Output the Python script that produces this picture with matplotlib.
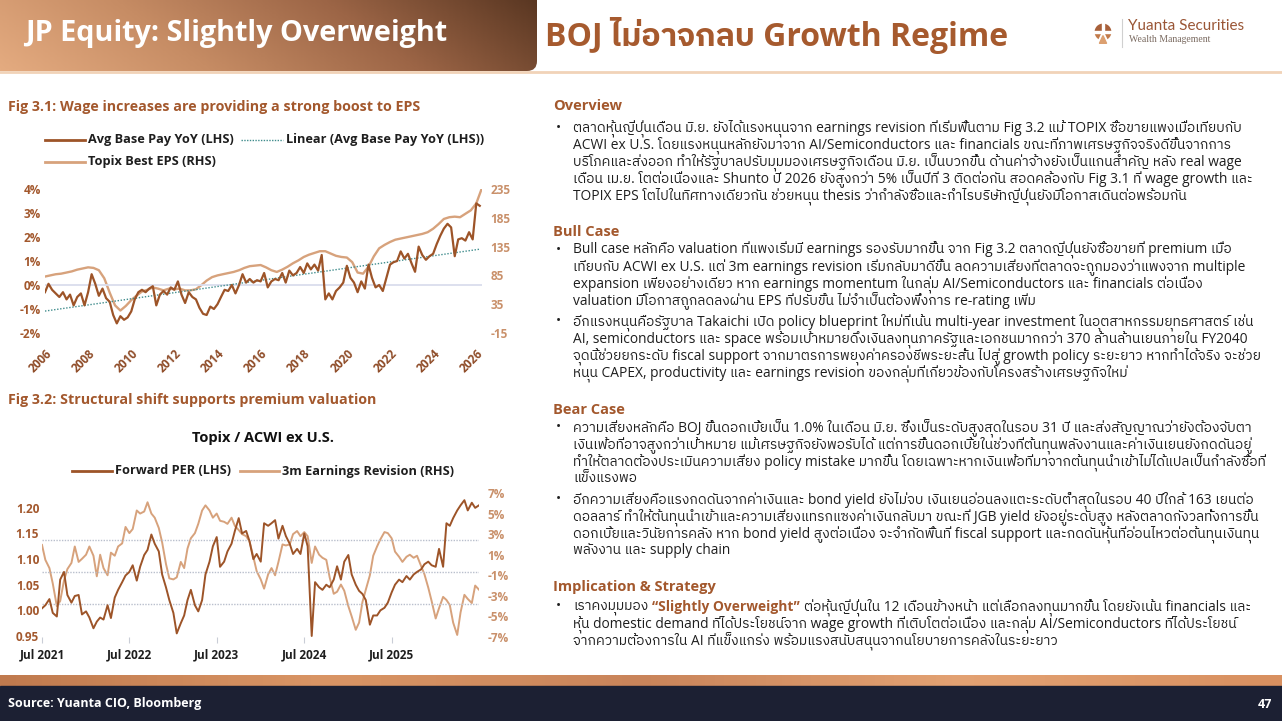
import numpy as np
import pandas as pd
import matplotlib
matplotlib.use("Agg")
import matplotlib.pyplot as plt
import matplotlib.dates as mdates
from matplotlib import font_manager
from matplotlib.ft2font import FT2Font
from matplotlib.lines import Line2D
from matplotlib.patches import FancyBboxPatch, Rectangle, Circle, Polygon
from matplotlib.colors import LinearSegmentedColormap

W, H = 1282, 721

# ---- Fig 3.1 data: Avg base pay YoY (%, every 2 months from Jan 2006) ----
wage_yoy = [
    -0.30, 0.05, -0.20, -0.35, -0.50, -0.30,   # 2006
    -0.60, -0.40, -0.85, -0.50, -0.35, -0.85,  # 2007
    -0.30, 0.45, 0.05, -0.45, -0.15, -0.55,    # 2008
    -0.70, -1.25, -1.60, -1.30, -1.45, -1.35,  # 2009
    -1.10, -0.60, -0.30, -0.20, -0.30, -0.15,  # 2010
    -0.05, -0.85, -0.40, -0.25, -0.40, -0.10,  # 2011
    -0.20, 0.15, -0.40, -0.75, -0.30, -0.50,   # 2012
    -0.60, -0.95, -1.20, -1.25, -0.90, -1.00,  # 2013
    -0.80, -0.50, -0.20, -0.25, 0.00, -0.35,   # 2014
    0.00, 0.45, 0.10, 0.25, 0.10, 0.20,        # 2015
    0.15, 0.50, -0.10, 0.15, 0.25, 0.20,       # 2016
    0.50, 0.10, 0.60, 0.40, 0.50, 0.75,        # 2017
    0.50, 0.90, 0.65, 0.85, 0.60, 1.25,        # 2018
    -0.60, -0.35, -0.60, -0.25, -0.10, 0.10,   # 2019
    0.80, 0.30, 0.10, -0.30, 0.15, -0.15,      # 2020
    0.85, 0.30, -0.10, 0.00, -0.25, 0.30,      # 2021
    0.85, 0.95, 1.00, 1.40, 1.10, 1.30,        # 2022
    0.90, 0.55, 1.60, 1.25, 1.05, 1.20,        # 2023
    1.30, 1.70, 2.05, 2.35, 2.55, 2.40,        # 2024
    1.20, 1.90, 1.95, 1.85, 2.20, 1.90,        # 2025
    3.40, 3.30,                                # 2026
]
# Topix best EPS (quarterly from Q1 2006)
topix_eps = [
    83, 85, 87, 88,  90, 92, 95, 97,  99, 98, 94, 80,  55, 33, 24, 32,
    42, 50, 57, 60,  64, 62, 59, 62,  61, 62, 59, 59,  61, 68, 76, 82,
    85, 87, 89, 91,  94, 98, 101, 102,  103, 99, 94, 91,  95, 100, 106, 111,
    117, 121, 124, 127,  127, 123, 119, 117,  116, 108, 90, 88,  100, 118, 132, 138,
    143, 147, 149, 151,  153, 155, 157, 160,  166, 174, 183, 186,  187, 186, 192, 198,
    210, 235,
]
years_31 = list(range(2006, 2027, 2))
pct_ticks_31 = [-2, -1, 0, 1, 2, 3, 4]
eps_ticks_31 = [-15, 35, 85, 135, 185, 235]

# ---- Fig 3.2 data: Topix / ACWI ex US (twice a month from Jul 2021) ----
fwd_per = [
    1.004, 1.010, 1.022, 0.995, 0.988, 1.060, 1.075, 1.030, 1.015, 1.028,
    1.030, 0.992, 0.998, 0.986, 0.965, 0.978, 0.986, 0.982, 1.010, 0.985,
    1.025, 1.040, 1.055, 1.068, 1.075, 1.088, 1.058, 1.085, 1.108, 1.118,
    1.148, 1.130, 1.115, 1.070, 1.045, 1.020, 0.995, 0.955, 0.975, 0.990,
    1.020, 1.040, 1.010, 0.998, 1.020, 1.070, 1.095, 1.125, 1.143, 1.085,
    1.095, 1.115, 1.130, 1.155, 1.180, 1.150, 1.155, 1.135, 1.100, 1.110,
    1.095, 1.170, 1.165, 1.170, 1.176, 1.140, 1.165, 1.145, 1.130, 1.110,
    1.120, 1.110, 1.150, 1.125, 0.950, 1.055, 1.045, 1.040, 1.050, 1.045,
    1.060, 1.086, 1.060, 1.095, 1.108, 1.070, 1.050, 1.038, 1.032, 1.020,
    0.972, 0.990, 0.990, 1.000, 1.005, 1.015, 1.035, 1.050, 1.060, 1.055,
    1.067, 1.060, 1.070, 1.075, 1.080, 1.090, 1.095, 1.088, 1.085, 1.120,
    1.085, 1.170, 1.165, 1.180, 1.195, 1.205, 1.215, 1.195, 1.210, 1.200,
    1.205,
]
eps_rev = [
    1.95, 0.5, -0.3, -1.8, -4.0, -3.5, -1.5, -0.4, 0.2, 1.8,
    0.3, 0.6, 1.0, 1.8, 0.9, -1.1, 1.0, -0.3, -1.0, 1.2,
    0.9, 1.8, 2.1, 3.7, 3.1, 3.5, 5.3, 5.0, 5.2, 6.1,
    5.0, 4.6, 3.6, 2.2, 0.1, -1.3, -1.4, -1.2, 0.3, -0.3,
    1.6, 2.6, 3.1, 4.0, 5.3, 5.8, 5.3, 4.6, 5.0, 4.3,
    4.2, 4.0, 4.6, 3.8, 3.4, 3.0, 2.8, 2.3, 0.8, -0.6,
    -1.4, -2.3, -0.9, -0.3, -1.0, 0.3, 2.0, 1.9, 2.0, 3.0,
    3.3, 2.8, 3.2, 2.8, 0.2, 1.8, 1.0, 0.7, 0.5, -1.2,
    -2.8, -2.6, -1.9, -2.5, -4.0, -5.0, -6.3, -5.6, -3.6, -2.4,
    -1.0, 0.9, 1.8, 2.5, 3.2, 3.1, 2.6, 1.3, 0.8, 0.3,
    0.8, 1.0, 0.7, 0.9, -0.1, -0.9, -2.2, -3.5, -5.2, -4.2,
    -3.1, -3.4, -3.9, -5.6, -6.8, -4.6, -2.9, -3.3, -3.7, -2.0,
    -2.4,
]
tick_dates_32 = ['2021-07-01', '2022-07-01', '2023-07-01', '2024-07-01', '2025-07-01']
tick_labels_32 = ['Jul 2021', 'Jul 2022', 'Jul 2023', 'Jul 2024', 'Jul 2025']
per_ticks = [0.95, 1.00, 1.05, 1.10, 1.15, 1.20]
rev_ticks = [-7, -5, -3, -1, 1, 3, 5, 7]

# ---- text ----
overview = [[
    "ตลาดหุ้นญี่ปุ่นเดือน มิ.ย. ยังได้แรงหนุนจาก earnings revision ที่เริ่มฟื้นตาม Fig 3.2 แม้ TOPIX ซื้อขายแพงเมื่อเทียบกับ",
    "ACWI ex U.S. โดยแรงหนุนหลักยังมาจาก AI/Semiconductors และ financials ขณะที่ภาพเศรษฐกิจจริงดีขึ้นจากการ",
    "บริโภคและส่งออก ทำให้รัฐบาลปรับมุมมองเศรษฐกิจเดือน มิ.ย. เป็นบวกขึ้น ด้านค่าจ้างยังเป็นแกนสำคัญ หลัง real wage",
    "เดือน เม.ย. โตต่อเนื่องและ Shunto ปี 2026 ยังสูงกว่า 5% เป็นปีที่ 3 ติดต่อกัน สอดคล้องกับ Fig 3.1 ที่ wage growth และ",
    "TOPIX EPS โตไปในทิศทางเดียวกัน ช่วยหนุน thesis ว่ากำลังซื้อและกำไรบริษัทญี่ปุ่นยังมีโอกาสเดินต่อพร้อมกัน",
]]
bull = [[
    "Bull case หลักคือ valuation ที่แพงเริ่มมี earnings รองรับมากขึ้น จาก Fig 3.2 ตลาดญี่ปุ่นยังซื้อขายที่ premium เมื่อ",
    "เทียบกับ ACWI ex U.S. แต่ 3m earnings revision เริ่มกลับมาดีขึ้น ลดความเสี่ยงที่ตลาดจะถูกมองว่าแพงจาก multiple",
    "expansion เพียงอย่างเดียว หาก earnings momentum ในกลุ่ม AI/Semiconductors และ financials ต่อเนื่อง",
    "valuation มีโอกาสถูกลดลงผ่าน EPS ที่ปรับขึ้น ไม่จำเป็นต้องพึ่งการ re-rating เพิ่ม",
], [
    "อีกแรงหนุนคือรัฐบาล Takaichi เปิด policy blueprint ใหม่ที่เน้น multi-year investment ในอุตสาหกรรมยุทธศาสตร์ เช่น",
    "AI, semiconductors และ space พร้อมเป้าหมายดึงเงินลงทุนภาครัฐและเอกชนมากกว่า 370 ล้านล้านเยนภายใน FY2040",
    "จุดนี้ช่วยยกระดับ fiscal support จากมาตรการพยุงค่าครองชีพระยะสั้น ไปสู่ growth policy ระยะยาว หากทำได้จริง จะช่วย",
    "หนุน CAPEX, productivity และ earnings revision ของกลุ่มที่เกี่ยวข้องกับโครงสร้างเศรษฐกิจใหม่",
]]
bear = [[
    "ความเสี่ยงหลักคือ BOJ ขึ้นดอกเบี้ยเป็น 1.0% ในเดือน มิ.ย. ซึ่งเป็นระดับสูงสุดในรอบ 31 ปี และส่งสัญญาณว่ายังต้องจับตา",
    "เงินเฟ้อที่อาจสูงกว่าเป้าหมาย แม้เศรษฐกิจยังพอรับได้ แต่การขึ้นดอกเบี้ยในช่วงที่ต้นทุนพลังงานและค่าเงินเยนยังกดดันอยู่",
    "ทำให้ตลาดต้องประเมินความเสี่ยง policy mistake มากขึ้น โดยเฉพาะหากเงินเฟ้อที่มาจากต้นทุนนำเข้าไม่ได้แปลเป็นกำลังซื้อที่",
    "แข็งแรงพอ",
], [
    "อีกความเสี่ยงคือแรงกดดันจากค่าเงินและ bond yield ยังไม่จบ เงินเยนอ่อนลงแตะระดับต่ำสุดในรอบ 40 ปีใกล้ 163 เยนต่อ",
    "ดอลลาร์ ทำให้ต้นทุนนำเข้าและความเสี่ยงแทรกแซงค่าเงินกลับมา ขณะที่ JGB yield ยังอยู่ระดับสูง หลังตลาดกังวลทั้งการขึ้น",
    "ดอกเบี้ยและวินัยการคลัง หาก bond yield สูงต่อเนื่อง จะจำกัดพื้นที่ fiscal support และกดดันหุ้นที่อ่อนไหวต่อต้นทุนเงินทุน",
    "พลังงาน และ supply chain",
]]
impl_first = ["เราคงมุมมอง", "“Slightly Overweight”",
              "ต่อหุ้นญี่ปุ่นใน 12 เดือนข้างหน้า แต่เลือกลงทุนมากขึ้น โดยยังเน้น financials และ"]
impl_rest = [
    "หุ้น domestic demand ที่ได้ประโยชน์จาก wage growth ที่เติบโตต่อเนื่อง และกลุ่ม AI/Semiconductors ที่ได้ประโยชน์",
    "จากความต้องการใน AI ที่แข็งแกร่ง พร้อมแรงสนับสนุนจากนโยบายการคลังในระยะยาว",
]


def find_thai_family():
    fonts = sorted(font_manager.fontManager.ttflist, key=lambda f: 'thai' not in f.name.lower())
    for f in fonts:
        try:
            if 0x0E01 in FT2Font(f.fname).get_charmap():
                return f.name
        except Exception:
            pass
    return None


THAI = find_thai_family()
FAM = ['Open Sans'] + ([THAI] if THAI else []) + ['DejaVu Sans']
plt.rcParams['font.family'] = FAM

DARK = '#9d5428'
LIGHT = '#d7a27c'
BROWN = '#a3582d'
TAN = '#c9906a'
TEAL = '#3f8c8c'
TXT = '#1e1e1e'


def px(x0, y0, x1, y1):
    return [x0 / W, 1 - y1 / H, (x1 - x0) / W, (y1 - y0) / H]


def fx(x):
    return x / W


def fy(y):
    return 1 - y / H


fig = plt.figure(figsize=(W / 100, H / 100), dpi=100)
fig.patch.set_facecolor('white')

# ---- header ----
fig.add_artist(Line2D([0, 1], [fy(72), fy(72)], color='#f1d3b8', lw=2))
axb = fig.add_axes(px(0, 0, 537, 71))
axb.set_axis_off()
axb.set_xlim(0, 537)
axb.set_ylim(71, 0)
xx, yy = np.meshgrid(np.linspace(0, 1, 300), np.linspace(0, 1, 40))
banner_cmap = LinearSegmentedColormap.from_list('banner', ['#e4ab80', '#c68c64', '#9c6546', '#5a3722'])
im = axb.imshow(0.85 * xx + 0.15 * (1 - yy), cmap=banner_cmap, extent=[0, 537, 71, 0], aspect='auto')
clip = FancyBboxPatch((-30, -30), 567, 101, boxstyle='round,pad=0,rounding_size=10',
                      transform=axb.transData, facecolor='none', edgecolor='none')
axb.add_patch(clip)
im.set_clip_path(clip)
fig.text(fx(25), fy(34), 'JP Equity: Slightly Overweight', color='white', fontsize=20.7,
         weight='bold', va='center')
fig.text(fx(545), fy(36), 'BOJ ไม่อาจกลบ Growth Regime', color='#a65a2e', fontsize=23,
         weight='bold', va='center')

# logo
axl = fig.add_axes(px(1091, 20, 1115, 44))
axl.set_xlim(-1, 1)
axl.set_ylim(-1, 1)
axl.set_aspect('equal')
axl.set_axis_off()
axl.add_patch(Circle((0, 0), 0.95, color='#a8603a'))
axl.add_patch(Rectangle((-1, -1), 2, 0.95, color='#c27a4a'))
axl.add_patch(Circle((0, 0), 1.4, fill=False, lw=12, ec='white'))
axl.add_patch(Rectangle((-0.08, 0.05), 0.16, 1.0, color='white'))
axl.add_patch(Rectangle((-1, -0.05), 2, 0.14, color='white'))
axl.add_patch(Polygon([(0, 0.05), (-0.5, -1), (0.5, -1)], color='white'))
axl.add_patch(Polygon([(0, -0.3), (-0.3, -0.95), (0.3, -0.95)], color='#dca070'))
fig.add_artist(Line2D([fx(1122), fx(1122)], [fy(19), fy(47)], color='#d0d0d0', lw=0.8))
fig.text(fx(1128), fy(26), 'Yuanta Securities', family='Lato', fontsize=11, color='#9a5636', va='center')
fig.text(fx(1129), fy(40), 'Wealth Management', family='Liberation Serif', fontsize=7,
         color='#7a6a60', va='center')

# ---- footer ----
axf = fig.add_axes(px(0, 675, 1282, 721))
axf.set_axis_off()
axf.set_xlim(0, 1282)
axf.set_ylim(721, 675)
strip_cmap = LinearSegmentedColormap.from_list('strip', ['#c07a4e', '#d99565', '#c9845a', '#e3a273', '#d89060'])
axf.imshow(np.linspace(0, 1, 400)[None, :], cmap=strip_cmap, extent=[0, 1282, 686, 675], aspect='auto')
axf.add_patch(Rectangle((0, 686), 1282, 35, color='#1c2033'))
fig.text(fx(8), fy(704), 'Source: Yuanta CIO, Bloomberg', color='white', fontsize=9, weight='bold', va='center')
fig.text(fx(1272), fy(704), '47', color='white', fontsize=9, weight='bold', va='center', ha='right')


def legend_item(x0, x1, y, color, label, ls='-', lw=2.0):
    fig.add_artist(Line2D([fx(x0), fx(x1)], [fy(y), fy(y)], color=color, lw=lw, ls=ls))
    fig.text(fx(x1 + 3), fy(y), label, fontsize=9.2, weight='bold', color=TXT, va='center')


# ---- Fig 3.1 ----
fig.text(fx(8), fy(107), 'Fig 3.1: Wage increases are providing a strong boost to EPS', color=BROWN,
         fontsize=10.25, weight='bold', va='center')
legend_item(45, 85, 140, DARK, 'Avg Base Pay YoY (LHS)')
legend_item(241, 283, 140, TEAL, 'Linear (Avg Base Pay YoY (LHS))', ls=(0, (1, 1)), lw=1.0)
legend_item(45, 85, 162, LIGHT, 'Topix Best EPS (RHS)')

wage_dates = pd.date_range('2006-01-01', periods=len(wage_yoy), freq='2MS')
eps_dates = pd.date_range('2006-01-01', periods=len(topix_eps), freq='QS')

ax1 = fig.add_axes(px(45, 189, 482, 333))
ax1r = ax1.twinx()
ax1r.plot(eps_dates, topix_eps, color=LIGHT, lw=1.7)
ax1.axhline(0, color='#dadded', lw=1.3, zorder=1)
ax1.plot(wage_dates, wage_yoy, color=DARK, lw=1.6, zorder=3)
t_num = mdates.date2num(wage_dates)
coef = np.polyfit(t_num, wage_yoy, 1)
ax1.plot(wage_dates, np.polyval(coef, t_num), color=TEAL, lw=1.0, ls=(0, (1, 1.2)), zorder=2)
ax1.set_zorder(ax1r.get_zorder() + 1)
ax1.patch.set_visible(False)
ax1.set_xlim(pd.Timestamp('2006-01-01'), pd.Timestamp('2026-04-08'))
ax1.set_ylim(-2, 4)
ax1r.set_ylim(-15, 235)
ax1.set_yticks(pct_ticks_31)
ax1.set_yticklabels([f'{v}%' for v in pct_ticks_31])
ax1r.set_yticks(eps_ticks_31)
ax1r.set_yticklabels([str(v) for v in eps_ticks_31])
ax1.set_xticks(pd.to_datetime([f'{y}-01-01' for y in years_31]))
ax1.set_xticklabels([str(y) for y in years_31], rotation=45, ha='right', va='top', rotation_mode='anchor')
ax1.tick_params(axis='y', length=0, pad=3, labelsize=8.5, labelcolor=BROWN)
ax1.tick_params(axis='x', length=0, pad=10, labelsize=8.5, labelcolor='#8f4c28')
ax1r.tick_params(axis='y', length=0, pad=6, labelsize=8.5, labelcolor=TAN)
for a in (ax1, ax1r):
    for s in a.spines.values():
        s.set_visible(False)
    for lab in a.get_xticklabels() + a.get_yticklabels():
        lab.set_fontweight('bold')

# ---- Fig 3.2 ----
fig.text(fx(8), fy(400), 'Fig 3.2: Structural shift supports premium valuation', color=BROWN,
         fontsize=10.25, weight='bold', va='center')
fig.text(fx(263), fy(438), 'Topix / ACWI ex U.S.', color='#111111', fontsize=10.5, weight='bold',
         va='center', ha='center')
legend_item(72, 112, 471, DARK, 'Forward PER (LHS)')
legend_item(240, 279, 471, LIGHT, '3m Earnings Revision (RHS)')

dates_32 = pd.date_range('2021-07-01', periods=len(fwd_per), freq='SMS')
ax2 = fig.add_axes(px(42, 493, 479, 637))
ax2r = ax2.twinx()
ax2r.plot(dates_32, eps_rev, color=LIGHT, lw=1.4)
ax2.plot(dates_32, fwd_per, color=DARK, lw=1.4, zorder=3)
ax2.set_zorder(ax2r.get_zorder() + 1)
ax2.patch.set_visible(False)
ax2.set_xlim(dates_32[0], dates_32[-1])
ax2.set_ylim(0.948, 1.229)
ax2r.set_ylim(-7, 7)
ax2.set_yticks(per_ticks)
ax2.set_yticklabels([f'{v:.2f}' for v in per_ticks])
ax2.set_yticks(np.linspace(per_ticks[0], per_ticks[-1], 5), minor=True)
ax2.grid(axis='y', which='minor', color='#b9bfcc', lw=1.0, ls=(0, (1, 1)), zorder=0)
ax2r.set_yticks(rev_ticks)
ax2r.set_yticklabels([f'{v}%' for v in rev_ticks])
ax2.set_xticks(pd.to_datetime(tick_dates_32))
ax2.set_xticklabels(tick_labels_32)
ax2.tick_params(axis='y', which='both', length=0, pad=2, labelsize=8.5, labelcolor=BROWN)
ax2.tick_params(axis='x', length=4, color='#c9cdd6', pad=4, labelsize=8.5, labelcolor=TXT)
ax2r.tick_params(axis='y', length=0, pad=6, labelsize=8.5, labelcolor=TAN)
for a in (ax2, ax2r):
    for s in a.spines.values():
        s.set_visible(False)
    for lab in a.get_xticklabels() + a.get_yticklabels():
        lab.set_fontweight('bold')

# ---- commentary column ----
BODY = 9.9
XH, XB, XT = 553, 556, 573


def heading(y, s):
    fig.text(fx(XH), fy(y), s, color=BROWN, fontsize=10.5, weight='bold', va='center_baseline')


def bullets(y0, groups, step=17, gap=3.5):
    y = y0
    for g in groups:
        fig.text(fx(XB), fy(y), '•', color=TXT, fontsize=BODY, va='center_baseline')
        for line in g:
            fig.text(fx(XT), fy(y), line, color=TXT, fontsize=BODY, va='center_baseline')
            y += step
        y += gap


heading(105, 'Overview')
bullets(126, overview)
heading(230, 'Bull Case')
bullets(248, bull)
heading(408, 'Bear Case')
bullets(426, bear)
heading(586, 'Implication & Strategy')

renderer = fig.canvas.get_renderer()
y_imp = 605
fig.text(fx(XB), fy(y_imp), '•', color=TXT, fontsize=BODY, va='center_baseline')
xcur = XT
styles = [dict(color=TXT), dict(color=BROWN, weight='bold'), dict(color=TXT)]
for part, st in zip(impl_first, styles):
    t = fig.text(fx(xcur), fy(y_imp), part, fontsize=BODY, va='center_baseline', **st)
    xcur = t.get_window_extent(renderer).x1 + 4
for k, line in enumerate(impl_rest):
    fig.text(fx(XT), fy(y_imp + 17 * (k + 1)), line, color=TXT, fontsize=BODY, va='center_baseline')

fig.savefig('out.png', dpi=100)
